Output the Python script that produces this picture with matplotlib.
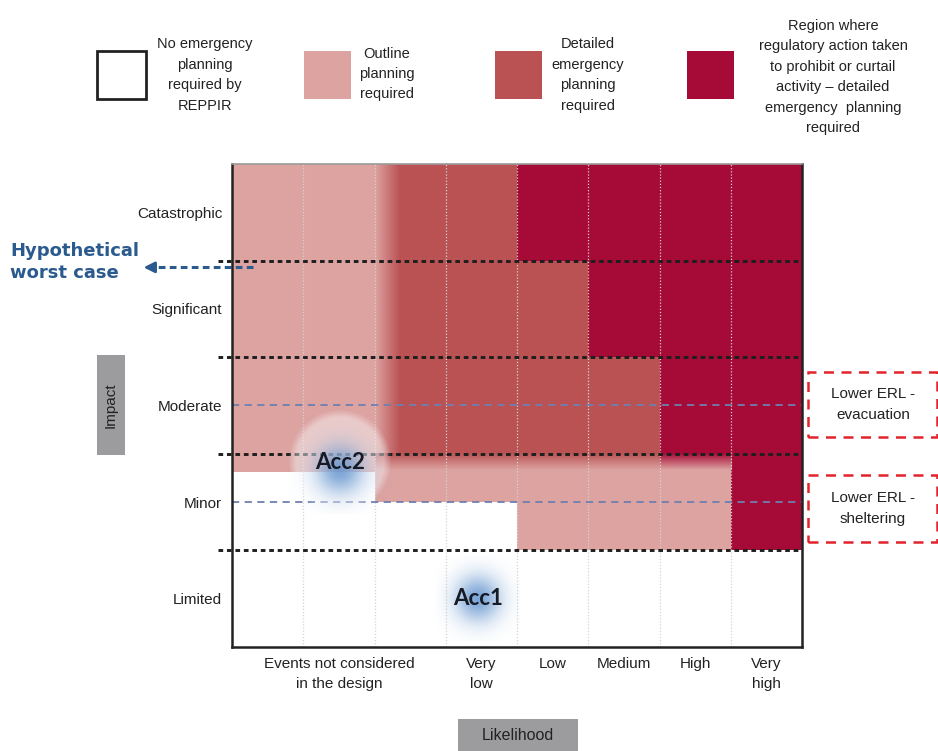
import numpy as np
import matplotlib
matplotlib.use('Agg')
import matplotlib.pyplot as plt
from matplotlib import font_manager
from matplotlib.colors import to_rgb
from matplotlib.patches import Rectangle

# ---- data ----
likelihood_labels = ['', 'Events not considered\nin the design', '', 'Very\nlow',
                     'Low', 'Medium', 'High', 'Very\nhigh']
impact_labels = ['Limited', 'Minor', 'Moderate', 'Significant', 'Catastrophic']

# planning level per cell: 0 none, 1 outline, 2 detailed, 3 regulatory
level_limited = [0, 0, 0, 0, 0, 0, 0, 0]
level_minor = [0, 0, 0, 0, 1, 1, 1, 3]
level_moderate = [1, 1, 2, 2, 2, 2, 3, 3]
level_significant = [1, 1, 2, 2, 2, 3, 3, 3]
level_catastrophic = [1, 1, 2, 2, 3, 3, 3, 3]
# outline planning band hanging into the top of the Minor row (fraction of row)
minor_band = [0.19, 0.19, 0.5, 0.5, 0, 0, 0, 0]

level_colors = ['#ffffff', '#dca3a1', '#ba5254', '#a60a36']
legend_texts = ['No emergency\nplanning\nrequired by\nREPPIR',
                'Outline\nplanning\nrequired',
                'Detailed\nemergency\nplanning\nrequired',
                'Region where\nregulatory action taken\nto prohibit or curtail\n'
                'activity \u2013 detailed\nemergency  planning\nrequired']

acc_names = ['Acc1', 'Acc2']
acc_x = [3.45, 1.52]
acc_y = [0.5, 1.91]

boundaries = [1, 2, 3, 4]
erl_y = [1.5, 2.5]
erl_names = ['Lower ERL -\nsheltering', 'Lower ERL -\nevacuation']
worst_case_y = 3.93

# ---- fonts ----
names = {f.name for f in font_manager.fontManager.ttflist}
narrow = 'Liberation Sans Narrow' if 'Liberation Sans Narrow' in names else 'Liberation Sans'
plt.rcParams['font.family'] = [narrow, 'DejaVu Sans']

W, H = 938, 751
fig = plt.figure(figsize=(W / 100, H / 100), dpi=100)


def fx(x):
    return x / W


def fy(y):
    return 1 - y / H


ax = fig.add_axes([fx(232), fy(647), 570 / W, 483 / H])
PX = 8 / 570   # data units per pixel, x
PY = 5 / 483   # data units per pixel, y

rows = [level_limited, level_minor, level_moderate, level_significant, level_catastrophic]
for r, row in enumerate(rows):
    ax.bar([c + 0.5 for c in range(8)], 1, bottom=r, width=1,
           color=[level_colors[v] for v in row], linewidth=0, zorder=1)

# outline band at the top of the Minor row
ax.bar([c + 0.5 for c in range(8)], minor_band,
       bottom=[2 - b for b in minor_band], width=1,
       color=level_colors[1], linewidth=0, zorder=1.1)


def gradient(x0, x1, y0, y1, c_from, c_to, vertical):
    t = np.linspace(0, 1, 64)
    a, b = np.array(to_rgb(c_from)), np.array(to_rgb(c_to))
    arr = a + (b - a) * t[:, None]
    img = arr[:, None, :] if vertical else arr[None, :, :]
    ax.imshow(img, extent=(x0, x1, y0, y1), aspect='auto', origin='upper',
              interpolation='bilinear', zorder=1.5)


# soft edge where outline meets detailed planning
for r in (2, 3, 4):
    gradient(2.0, 2.35, r, r + 1, level_colors[1], level_colors[2], False)
# soft edge below the Moderate row
for c in range(2, 7):
    gradient(c, c + 1, 1.83, 2.0, level_colors[level_moderate[c]], level_colors[1], True)

# column separators
for c in range(1, 8):
    ax.axvline(c, color='#d8d2d2', lw=0.9, ls=(0, (1, 1.5)), zorder=2)

# impact boundaries
for b in boundaries:
    ax.plot([-0.19, 8], [b, b], color='#1e1e1e', lw=2.1, ls=(0, (1.6, 1.3)),
            clip_on=False, zorder=3)

# emergency reference levels
for y in erl_y:
    ax.plot([0, 8], [y, y], color='#6f7fb0', lw=1.3, ls=(0, (4, 3)), zorder=3)


def glow(cx, cy, r_px, core_dy, sigma, peak, halo):
    n = 240
    s = np.linspace(-r_px, r_px, n)
    X, Y = np.meshgrid(s, s)
    R = np.hypot(X, Y)
    Rb = np.hypot(X, Y - core_dy)
    a_h = halo * np.clip((r_px - R) / 8, 0, 1) * (0.75 + 0.25 * (1 - R / r_px))
    a_b = peak * np.exp(-Rb ** 2 / (2 * sigma ** 2))
    blue = np.array([0.36, 0.56, 0.80])
    a = a_b + a_h * (1 - a_b)
    rgb = (np.ones(3) * (a_h * (1 - a_b))[..., None] + blue * a_b[..., None]) / np.maximum(a, 1e-6)[..., None]
    img = np.dstack([rgb, a])
    ax.imshow(img, extent=(cx - r_px * PX, cx + r_px * PX, cy - r_px * PY, cy + r_px * PY),
              origin='lower', aspect='auto', interpolation='bilinear', zorder=4)


glow(acc_x[0], acc_y[0], 42, 0, 16, 0.8, 0.0)
glow(acc_x[1], acc_y[1], 52, -8, 17, 0.8, 0.55)
for name, x, y in zip(acc_names, acc_x, acc_y):
    ax.text(x, y, name, ha='center', va='center', fontsize=16, fontweight='bold',
            family=['Lato', 'DejaVu Sans'], color='#151a24', zorder=5)

# hypothetical worst case arrow
ax.plot([0.3, -1.12], [worst_case_y, worst_case_y], color='#2a5a8e', lw=2.2,
        ls=(0, (2.2, 1.4)), clip_on=False, zorder=3)
ax.annotate('', xy=(-1.28, worst_case_y), xytext=(-1.1, worst_case_y),
            arrowprops=dict(arrowstyle='-|>', color='#2a5a8e', lw=2,
                            mutation_scale=16), annotation_clip=False)
fig.text(fx(10), fy(262), 'Hypothetical\nworst case', ha='left', va='center',
         fontsize=13, fontweight='bold', color='#2a5a8e', linespacing=1.25,
         family=['DejaVu Sans'])

ax.set_xlim(0, 8)
ax.set_ylim(0, 5)
ax.set_xticks([c + 0.5 for c in range(8)])
ax.set_xticklabels(likelihood_labels, fontsize=11, linespacing=1.6, color='#222222')
ax.set_yticks([r + 0.5 for r in range(5)])
ax.set_yticklabels(impact_labels, fontsize=11, color='#222222')
ax.tick_params(length=0, pad=7)
for lab in ax.get_xticklabels():
    lab.set_verticalalignment('top')
for side in ['left', 'right', 'bottom']:
    ax.spines[side].set_color('#222222')
    ax.spines[side].set_linewidth(1.8)
ax.spines['top'].set_color('#9a9a9a')
ax.spines['top'].set_linewidth(1.2)
for s in ax.spines.values():
    s.set_zorder(6)

# axis title boxes
fig.add_artist(Rectangle((fx(97), fy(455)), 28 / W, 100 / H, transform=fig.transFigure,
                         facecolor='#9c9c9e', edgecolor='none'))
fig.text(fx(111), fy(405), 'Impact', rotation=90, ha='center', va='center',
         fontsize=11, color='#222222')
fig.add_artist(Rectangle((fx(458), fy(751)), 120 / W, 32 / H, transform=fig.transFigure,
                         facecolor='#9c9c9e', edgecolor='none'))
fig.text(fx(518), fy(736), 'Likelihood', ha='center', va='center', fontsize=11.5,
         color='#222222')

# ERL boxes
for name, (y0, y1) in zip(erl_names, [(475, 542), (372, 437)]):
    fig.add_artist(Rectangle((fx(808), fy(y1)), 129 / W, (y1 - y0) / H,
                             transform=fig.transFigure, fill=False, edgecolor='#e3232c',
                             lw=1.8, ls=(0, (4, 3))))
    fig.text(fx(873), fy((y0 + y1) / 2), name, ha='center', va='center', fontsize=11,
             linespacing=1.55, color='#222222')

# legend
legend_boxes = [97, 304, 495, 687]
legend_text_x = [205, 387, 588, 833]
legend_text_y = [75, 74, 75, 77]
for i, (bx, tx, ty, txt) in enumerate(zip(legend_boxes, legend_text_x, legend_text_y, legend_texts)):
    if i == 0:
        fig.add_artist(Rectangle((fx(bx), fy(99)), 49 / W, 48 / H, transform=fig.transFigure,
                                 facecolor='white', edgecolor='#222222', lw=2))
    else:
        fig.add_artist(Rectangle((fx(bx), fy(99)), 47 / W, 48 / H, transform=fig.transFigure,
                                 facecolor=level_colors[i], edgecolor='none'))
    fig.text(fx(tx), fy(ty), txt, ha='center', va='center', fontsize=10.5,
             linespacing=1.58, color='#222222')

fig.savefig('out.png', dpi=100)
